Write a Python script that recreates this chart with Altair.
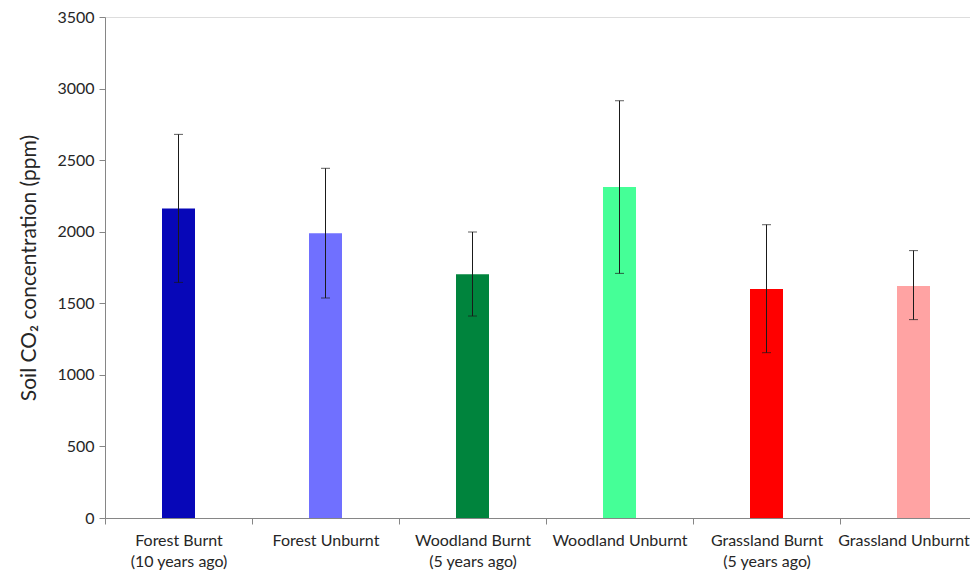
import altair as alt
import pandas as pd

categories = [
    "Forest Burnt|(10 years ago)",
    "Forest Unburnt",
    "Woodland Burnt|(5 years ago)",
    "Woodland Unburnt",
    "Grassland Burnt|(5 years ago)",
    "Grassland Unburnt",
]
means = [2163, 1989, 1702, 2312, 1600, 1621]
upper = [2680, 2443, 1998, 2915, 2049, 1868]
lower = [1646, 1537, 1411, 1709, 1155, 1386]
colors = ["#0707B8", "#7070FF", "#00843D", "#45FF97", "#FF0000", "#FFA3A3"]
y_ticks = [0, 500, 1000, 1500, 2000, 2500, 3000, 3500]

df = pd.DataFrame({"cat": categories, "mean": means, "hi": upper, "lo": lower, "col": colors})

W_VIEW = 865   # visible plot width (page is clipped at the right edge)
W_RANGE = 882  # full range of the category scale (last band runs to the page edge)
H = 501
band = W_RANGE / len(categories)
FONT = "Lato"
GRAY = "#868686"
TXT = "#262626"

x_scale = alt.Scale(paddingInner=0, paddingOuter=0, range=[0, W_RANGE])

x_enc = alt.X(
    "cat:N",
    sort=categories,
    scale=x_scale,
    axis=alt.Axis(
        title=None,
        labelAngle=0,
        labelExpr="split(datum.label, '|')",
        labelFont=FONT,
        labelFontSize=16,
        labelColor=TXT,
        labelLineHeight=21,
        labelPadding=8,
        labelOffset=alt.ExprRef(
            f"datum.value == '{categories[-1]}' ? {band / 2 - 10} : {band / 2}"
        ),
        tickOffset=-band / 2,
        tickSize=6,
        tickColor=GRAY,
        domainColor=GRAY,
        labelOverlap=False,
        labelBound=False,
    ),
)

y_enc = alt.Y(
    "mean:Q",
    scale=alt.Scale(domain=[0, 3500], nice=False),
    axis=alt.Axis(
        values=y_ticks,
        format="d",
        grid=False,
        title="Soil CO\u2082 concentration (ppm)",
        titleFont=FONT,
        titleFontSize=21,
        titleFontWeight="normal",
        titleColor=TXT,
        titlePadding=17,
        labelFont=FONT,
        labelFontSize=16,
        labelColor=TXT,
        labelPadding=5,
        tickSize=6,
        tickColor=GRAY,
        domainColor=GRAY,
    ),
)

bars = alt.Chart(df).mark_bar(size=33).encode(
    x=x_enc,
    y=y_enc,
    color=alt.Color("col:N", scale=None),
)

rule = alt.Chart(df).mark_rule(color="#1a1a1a", strokeWidth=1).encode(
    x=alt.X("cat:N", sort=categories),
    y=alt.Y("lo:Q"),
    y2="hi:Q",
)
cap_hi = alt.Chart(df).mark_tick(orient="horizontal", size=9, thickness=1, color="#1a1a1a").encode(
    x=alt.X("cat:N", sort=categories),
    y=alt.Y("hi:Q"),
)
cap_lo = alt.Chart(df).mark_tick(orient="horizontal", size=9, thickness=1, color="#1a1a1a").encode(
    x=alt.X("cat:N", sort=categories),
    y=alt.Y("lo:Q"),
)

chart = (
    alt.layer(bars, rule, cap_hi, cap_lo)
    .properties(
        width=W_VIEW,
        height=H,
        autosize=alt.AutoSizeParams(type="none"),
        padding={"left": 97, "top": 9, "right": 0, "bottom": 53},
    )
    .configure_view(stroke=None)
    .configure(background="white")
)

chart.save("out.html", embed_options={"renderer": "svg", "actions": False})
